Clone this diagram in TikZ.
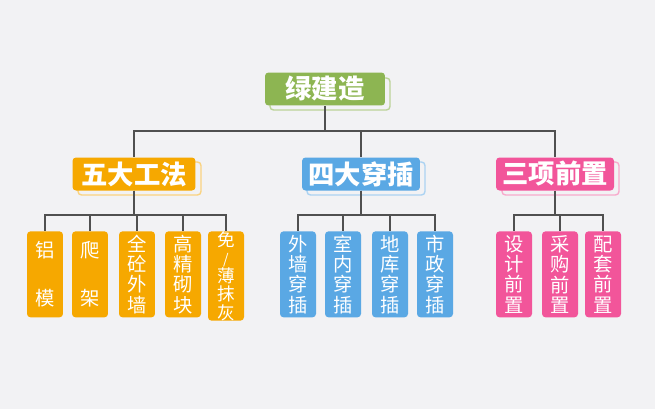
\documentclass[tikz,border=0pt]{standalone}
\usepackage{fontspec}
\setmainfont{Noto Sans CJK SC}
\usetikzlibrary{positioning}
\definecolor{paper}{HTML}{F2F2F4}
\definecolor{greenc}{HTML}{8DB552}
\definecolor{orangec}{HTML}{F6A800}
\definecolor{bluec}{HTML}{5AA8E4}
\definecolor{pinkc}{HTML}{F2559A}
\definecolor{linec}{HTML}{505050}
\begin{document}
\begin{tikzpicture}[
        x=0.02cm, y=-0.02cm,
        box/.style={rounded corners=2pt, text=white, font=\bfseries\fontsize{15}{17}\selectfont,
                    minimum height=0.66cm, inner sep=0pt},
        top/.style={box, fill=greenc, minimum width=2.4cm},
        cat/.style={box, minimum width=2.36cm},
        leaf/.style={rounded corners=2pt, text=white, font=\fontsize{11}{11.6}\selectfont,
                     minimum width=0.72cm, minimum height=1.72cm, inner sep=0pt, align=center,
                     anchor=north},
        shadow/.style={draw=#1, line width=0.8pt, rounded corners=2pt, fill=paper},
        link/.style={draw=linec, line width=0.9pt}
        ]
        \fill[paper] (0,0) rectangle (655,409);
        % top node
        \draw[shadow=greenc!60] (270,78) rectangle (390,110);
        \node[top] (root) at (325,89) {绿建造};
        % categories
        \draw[shadow=orangec!50] (78,162) rectangle (201,195);
        \node[cat, fill=orangec, minimum width=2.46cm] (wu) at (134,174) {五大工法};
        \draw[shadow=bluec!50] (307,162) rectangle (425,195);
        \node[cat, fill=bluec] (si) at (361,174) {四大穿插};
        \draw[shadow=pinkc!50] (502,162) rectangle (619,195);
        \node[cat, fill=pinkc] (san) at (555,174) {三项前置};
        % leaves
        \foreach \name/\x/\txt in {a1/45/{铝\\[16pt]模}, a2/90/{爬\\[16pt]架}, a3/137/{全\\砼\\外\\墙},
                                   a4/183/{高\\精\\砌\\块}}
            \node[leaf, fill=orangec] (\name) at (\x,231) {\txt};
        \node[leaf, fill=orangec, font=\fontsize{10}{10.4}\selectfont] (a5) at (226,231)
            {免\\{\fontsize{8}{8}\selectfont /}\\薄\\抹\\灰};
        \foreach \name/\x/\txt in {b1/298/{外\\墙\\穿\\插}, b2/343/{室\\内\\穿\\插},
                                   b3/390/{地\\库\\穿\\插}, b4/435/{市\\政\\穿\\插}}
            \node[leaf, fill=bluec] (\name) at (\x,231) {\txt};
        \foreach \name/\x/\txt in {c1/514/{设\\计\\前\\置}, c2/560/{采\\购\\前\\置}, c3/603/{配\\套\\前\\置}}
            \node[leaf, fill=pinkc] (\name) at (\x,231) {\txt};
        % connectors
        \coordinate (hub) at (325,131);
        \draw[link] (root) -- (hub);
        \foreach \c in {wu,si,san}
            \draw[link] (hub) -| (\c.north);
        \foreach \c/\leaves in {wu/{a1,a2,a3,a4,a5}, si/{b1,b2,b3,b4}, san/{c1,c2,c3}}
            \foreach \l in \leaves
                \draw[link] (\c.south) -- ++(0,24) -| (\l.north);
\end{tikzpicture}
\end{document}
